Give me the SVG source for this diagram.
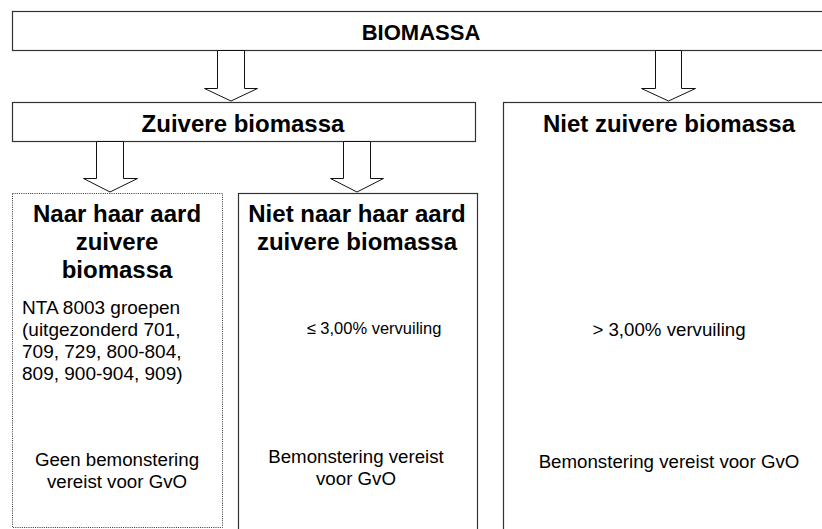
<svg xmlns="http://www.w3.org/2000/svg" width="822" height="529" viewBox="0 0 822 529">
<style>
.box{fill:#fff;stroke:#333;stroke-width:1.2}
.dot{fill:#fff;stroke:#333;stroke-width:1;stroke-dasharray:1 1.2}
.arr{fill:#fff;stroke:#111;stroke-width:1}
.h{font-family:"Liberation Sans",Arial,sans-serif;font-weight:bold;font-size:24px;fill:#000;text-anchor:middle}
.t{font-family:"Liberation Sans",Arial,sans-serif;font-size:18.7px;fill:#000;text-anchor:middle}
.tl{font-family:"Liberation Sans",Arial,sans-serif;font-size:19px;fill:#000}
</style>
<rect width="822" height="529" fill="#fff"/>
<g id="biomassa">
<rect class="box" x="12.5" y="11.5" width="820" height="39"/>
<text class="h" x="421" y="40" style="font-size:22px">BIOMASSA</text>
</g>
<g id="zuivere">
<rect class="box" x="12.5" y="102.5" width="463" height="39"/>
<text class="h" x="243" y="132">Zuivere biomassa</text>
</g>
<g id="niet-zuivere">
<rect class="box" x="503.5" y="102.5" width="330" height="440"/>
<text class="h" x="669" y="132">Niet zuivere biomassa</text>
<text class="t" x="669" y="336">&gt; 3,00% vervuiling</text>
<text class="t" x="669" y="468">Bemonstering vereist voor GvO</text>
</g>
<g id="naar-aard">
<rect class="dot" x="12.5" y="193.5" width="210" height="334"/>
<text class="h" x="117" y="222">Naar haar aard</text>
<text class="h" x="117" y="250">zuivere</text>
<text class="h" x="117" y="278">biomassa</text>
<text class="tl" x="22" y="314">NTA 8003 groepen</text>
<text class="tl" x="22" y="336">(uitgezonderd 701,</text>
<text class="tl" x="22" y="358">709, 729, 800-804,</text>
<text class="tl" x="22" y="380">809, 900-904, 909)</text>
<text class="t" x="117" y="466">Geen bemonstering</text>
<text class="t" x="117" y="488">vereist voor GvO</text>
</g>
<g id="niet-naar-aard">
<rect class="box" x="238.5" y="193.5" width="239" height="350"/>
<text class="h" x="357" y="222">Niet naar haar aard</text>
<text class="h" x="357" y="250">zuivere biomassa</text>
<text class="t" x="374" y="334" style="font-size:16.5px">≤ 3,00% vervuiling</text>
<text class="t" x="356" y="463">Bemonstering vereist</text>
<text class="t" x="356" y="485">voor GvO</text>
</g>
<g id="connectors">
<polygon class="arr" points="217.5,50.5 244.5,50.5 244.5,88.5 257.5,88.5 231,101 204.5,88.5 217.5,88.5"/>
<polygon class="arr" points="655.5,50.5 681.5,50.5 681.5,88.5 695.5,88.5 668.5,101 641.5,88.5 655.5,88.5"/>
<polygon class="arr" points="96.5,141.5 123.5,141.5 123.5,178.5 137.5,178.5 110,192 83.5,178.5 96.5,178.5"/>
<polygon class="arr" points="343.5,141.5 370.5,141.5 370.5,178.5 383.5,178.5 357,192 330.5,178.5 343.5,178.5"/>
</g>
</svg>
